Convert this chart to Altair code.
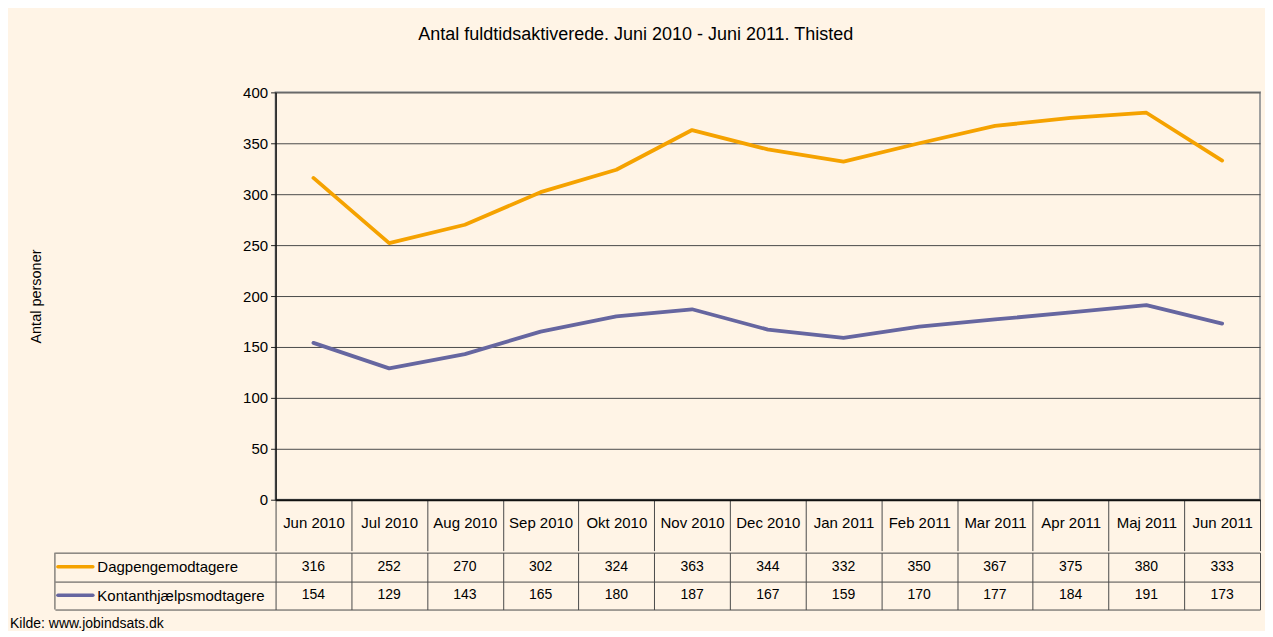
import altair as alt
import pandas as pd

months = ["Jun 2010", "Jul 2010", "Aug 2010", "Sep 2010", "Okt 2010", "Nov 2010",
          "Dec 2010", "Jan 2011", "Feb 2011", "Mar 2011", "Apr 2011", "Maj 2011", "Jun 2011"]
series_names = ["Dagpengemodtagere", "Kontanthjælpsmodtagere"]
dagpenge = [316, 252, 270, 302, 324, 363, 344, 332, 350, 367, 375, 380, 333]
kontant = [154, 129, 143, 165, 180, 187, 167, 159, 170, 177, 184, 191, 173]
y_ticks = [0, 50, 100, 150, 200, 250, 300, 350, 400]

title_text = "Antal fuldtidsaktiverede. Juni 2010 - Juni 2011. Thisted"
y_title = "Antal personer"
source_text = "Kilde: www.jobindsats.dk"

colors = ["#F5A200", "#6666A0"]
bg = "#FFF4E6"
line_col = "#4a4a4a"
FONT = "Liberation Sans"

rows = []
for name, vals in zip(series_names, [dagpenge, kontant]):
    for i, (m, v) in enumerate(zip(months, vals)):
        rows.append({"month": m, "series": name, "value": v, "idx": i})
df = pd.DataFrame(rows)

W = 986
H = 408

color_scale = alt.Scale(domain=series_names, range=colors)
xscale = alt.Scale(domain=months, paddingInner=0, paddingOuter=0)

top = alt.Chart(df).mark_line(strokeWidth=3.8, strokeCap="round", strokeJoin="round").encode(
    x=alt.X("month:N", sort=months, scale=xscale,
            axis=alt.Axis(title=None, tickBand="extent", tickSize=51, tickColor=line_col,
                          tickWidth=1, labelPadding=-28, labelBaseline="middle",
                          labelAngle=0, labelFontSize=15, labelColor="#000",
                          labelFont=FONT, domainColor="#111", domainWidth=2,
                          grid=False)),
    y=alt.Y("value:Q", scale=alt.Scale(domain=[0, 400], nice=False),
            axis=alt.Axis(values=y_ticks, title=y_title, titleX=-239, titleY=204,
                          titleAngle=-90, titleAlign="center", titleBaseline="middle",
                          titleFontSize=14.5, titleFontWeight="normal", titleColor="#000",
                          titleFont=FONT,
                          grid=True, gridColor=line_col, gridWidth=1,
                          domainColor="#111", domainWidth=1.5,
                          tickSize=5, tickColor="#222", labelPadding=3,
                          labelFontSize=15, labelColor="#000", labelFont=FONT)),
    color=alt.Color("series:N", scale=color_scale, legend=None),
    order="idx:Q",
).properties(width=W, height=H, view=alt.ViewConfig(stroke="#a0a0a0", strokeWidth=2))

TH = 57
row_scale = alt.Scale(domain=series_names, paddingInner=0, paddingOuter=0)

table_text = alt.Chart(df).mark_text(fontSize=14, font=FONT, color="#000", baseline="middle").encode(
    x=alt.X("month:N", sort=months, scale=xscale,
            axis=alt.Axis(title=None, tickBand="extent", grid=True, gridColor=line_col,
                          gridWidth=1, ticks=False, labels=False, domain=False)),
    y=alt.Y("series:N", sort=series_names, scale=row_scale,
            axis=alt.Axis(title=None, tickBand="extent", grid=True, gridColor=line_col,
                          gridWidth=1, tickSize=221, tickColor=line_col, tickWidth=1,
                          labelPadding=-42, labelAlign="left", labelBaseline="middle",
                          labelFontSize=15, labelColor="#000", labelFont=FONT,
                          domain=False)),
    text="value:Q",
)

swatch_df = pd.DataFrame({"series": series_names})
swatches = alt.Chart(swatch_df).mark_rule(strokeWidth=3.5, strokeCap="round").encode(
    y=alt.Y("series:N", sort=series_names, scale=row_scale),
    x=alt.value(-218),
    x2=alt.value(-183),
    color=alt.Color("series:N", scale=color_scale, legend=None),
)

edge_df = pd.DataFrame({"e": [0]})
left_edge = alt.Chart(edge_df).mark_rule(color=line_col, strokeWidth=1).encode(
    x=alt.value(-221), y=alt.value(0), y2=alt.value(TH)
)

src_df = pd.DataFrame({"t": [source_text]})
source = alt.Chart(src_df).mark_text(align="left", baseline="middle", fontSize=14,
                                     font=FONT, color="#000").encode(
    text="t:N", x=alt.value(-266), y=alt.value(TH + 14)
)

table = alt.layer(table_text, swatches, left_edge, source).properties(
    width=W, height=TH, view=alt.ViewConfig(stroke=None)
)

chart = alt.vconcat(top, table, spacing=-10).properties(
    title=alt.TitleParams(title_text, fontSize=18, fontWeight="normal", color="#000",
                          font=FONT, anchor="middle", offset=40),
    background=bg,
    padding={"left": 2, "top": 18, "right": 3, "bottom": 0},
).configure(font=FONT).configure_title(fontSize=18, fontWeight="normal", color="#000",
                                       font=FONT).resolve_scale(color="shared")

chart.save("out.html", embed_options={"renderer": "svg", "actions": False})
